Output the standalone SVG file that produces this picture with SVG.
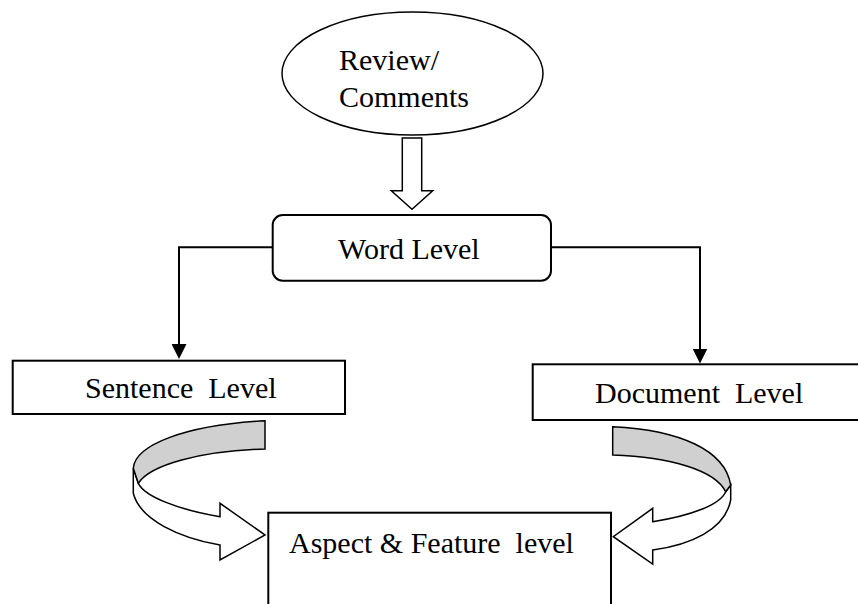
<svg xmlns="http://www.w3.org/2000/svg" width="858" height="604" viewBox="0 0 858 604">
<style>
.box{fill:#fff;stroke:#000;stroke-width:2}
.lbl{font-family:'Liberation Serif','DejaVu Serif',serif;font-size:30px;fill:#000;white-space:pre}
.conn{fill:none;stroke:#000;stroke-width:2}
.band{fill:#fff;stroke:#000;stroke-width:1.5;stroke-linejoin:miter}
.back{fill:#d0d0d0;stroke:#000;stroke-width:1.5}
</style>
<defs>
<marker id="ah" viewBox="0 0 15 15" refX="13" refY="7.5" markerWidth="15" markerHeight="15" markerUnits="userSpaceOnUse" orient="auto">
<path d="M0,0 L15,7.5 L0,15 Z" fill="#000"/>
</marker>
</defs>
<rect width="858" height="604" fill="#fff"/>

<g id="connectors">
<polygon class="band" points="402.3,138 421.7,138 421.7,190.7 432.7,190.7 412,209.3 391.3,190.7 402.3,190.7"/>
<path class="conn" d="M272.7,247.3 H179 V357" marker-end="url(#ah)"/>
<path class="conn" d="M551,247.3 H700 V361.5" marker-end="url(#ah)"/>
<g id="curve-left">
<path class="band" d="M133.3,468.3 L133.3,493.3 C140,520 180,538 220,545 L220,560 L265,535 L220,503.3 L220,516.7 C180,510 145,497 138.3,483.3 Z"/>
<path class="back" d="M265,420.7 C185,425 135,445 133.3,468.3 L138.3,483.3 C150,465 200,451 265,449 Z"/>
</g>
<g id="curve-right">
<path class="band" d="M730.7,485 L730.7,500 C725,530 690,545 652.7,550 L652.7,564 L613.3,536.7 L652.7,508.3 L652.7,521.7 C690,516 720,505 725.7,491.7 Z"/>
<path class="back" d="M612.7,426.7 C680,430 725,450 730.7,485 L725.7,491.7 C715,470 670,457 612.7,455 Z"/>
</g>
</g>

<g id="review">
<ellipse cx="412.5" cy="73.5" rx="130.5" ry="61.5" fill="#fff" stroke="#000" stroke-width="1.5"/>
<text class="lbl" font-family="Liberation Serif" x="339" y="70">Review/</text>
<text class="lbl" font-family="Liberation Serif" x="339" y="107">Comments</text>
</g>

<g id="word">
<rect class="box" x="272.7" y="215" width="278.3" height="65.7" rx="10"/>
<text class="lbl" font-family="Liberation Serif" x="338" y="259">Word Level</text>
</g>

<g id="sentence">
<rect class="box" x="12.7" y="360.7" width="332.3" height="53.3"/>
<text class="lbl" font-family="Liberation Serif" x="85" y="398">Sentence  Level</text>
</g>

<g id="document">
<rect class="box" x="532.7" y="364.3" width="340" height="55.7"/>
<text class="lbl" font-family="Liberation Serif" x="595" y="402.7">Document  Level</text>
</g>

<g id="aspect">
<rect class="box" x="268.3" y="512.7" width="342.7" height="120"/>
<text class="lbl" font-family="Liberation Serif" x="289" y="553">Aspect &amp; Feature  level</text>
</g>
</svg>
